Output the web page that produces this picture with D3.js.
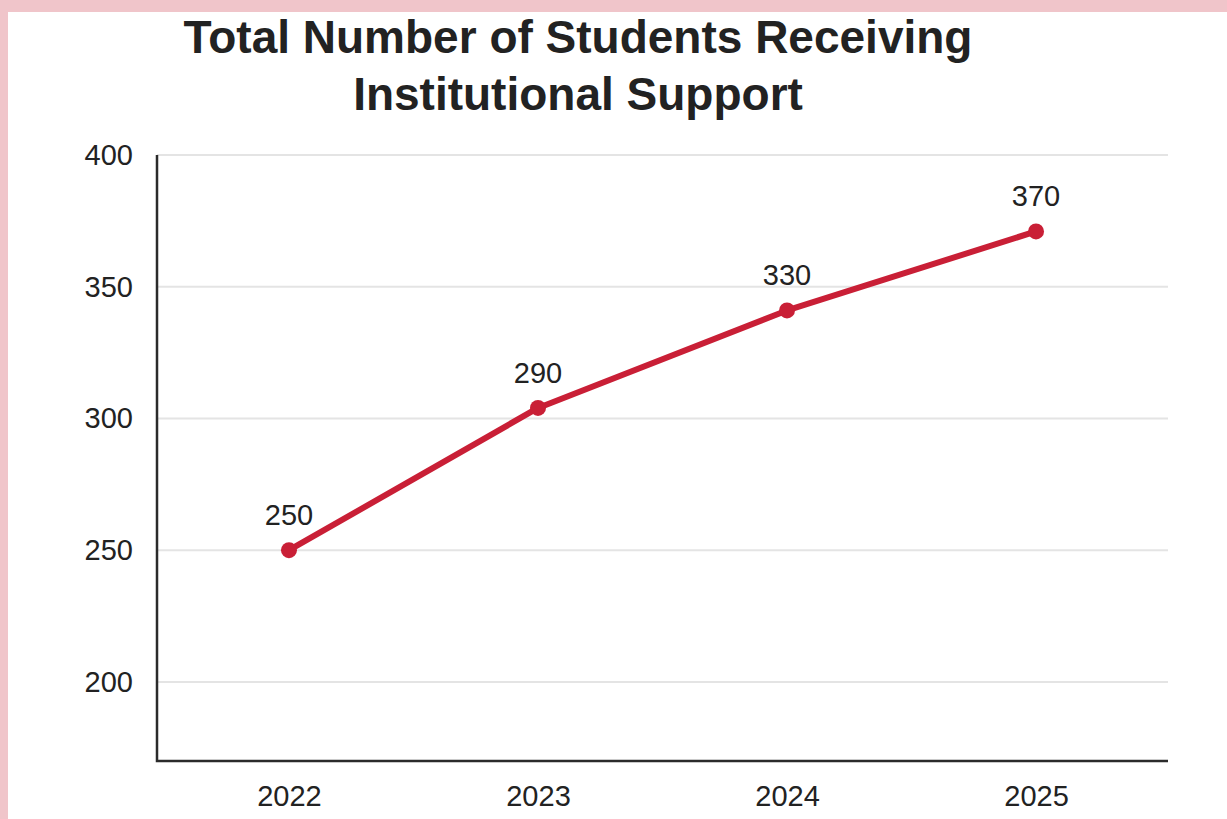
<!DOCTYPE html>
<html>
<head>
<meta charset="utf-8">
<script src="https://cdn.jsdelivr.net/npm/d3@7"></script>
<style>
  html, body { margin: 0; padding: 0; background: #f0c5ca; }
  svg { display: block; }
</style>
</head>
<body>
<svg id="chart" width="1227" height="819"></svg>
<script>
const titleLines = ["Total Number of Students Receiving", "Institutional Support"];
const years = ["2022", "2023", "2024", "2025"];
// plotted positions (as drawn in the picture)
const values = [250, 304, 341, 371];
// printed data labels
const labels = ["250", "290", "330", "370"];
const yTicks = [200, 250, 300, 350, 400];

const svg = d3.select("#chart");
const W = 1227, H = 819;

// white panel with pink top and left border
svg.append("rect").attr("x", 8).attr("y", 12).attr("width", W - 8).attr("height", H - 12).attr("fill", "#ffffff");

const x = d3.scalePoint().domain(years).range([157, 1168]).padding(0.53);
const y = d3.scaleLinear().domain([170, 400]).range([761, 155]);

// title
svg.append("g").selectAll("text").data(titleLines).join("text")
  .attr("x", 578).attr("y", (d, i) => 53 + i * 57)
  .attr("text-anchor", "middle")
  .attr("font-family", "Liberation Sans, Arial, sans-serif")
  .attr("font-weight", "bold").attr("font-size", 46)
  .attr("fill", "#222").text(d => d);

// gridlines
svg.append("g").selectAll("line").data(yTicks).join("line")
  .attr("x1", 157).attr("x2", 1168)
  .attr("y1", d => y(d)).attr("y2", d => y(d))
  .attr("stroke", "#e4e4e4").attr("stroke-width", 2);

// y axis
const yAxis = svg.append("g").attr("transform", "translate(157,0)")
  .call(d3.axisLeft(y).tickValues(yTicks).tickSize(0).tickPadding(24));
yAxis.select(".domain").remove();
yAxis.selectAll("text")
  .attr("font-family", "Liberation Sans, Arial, sans-serif")
  .attr("font-size", 29).attr("fill", "#222");

// x axis
const xAxis = svg.append("g").attr("transform", "translate(0,761)")
  .call(d3.axisBottom(x).tickSize(0).tickPadding(24));
xAxis.select(".domain").remove();
xAxis.selectAll("text")
  .attr("font-family", "Liberation Sans, Arial, sans-serif")
  .attr("font-size", 29).attr("fill", "#222");

// axis lines
svg.append("path")
  .attr("d", `M157,155V761H1168`)
  .attr("fill", "none").attr("stroke", "#2b2b2b").attr("stroke-width", 2.5);

// line
const pts = years.map((d, i) => ({ year: d, v: values[i], label: labels[i] }));
svg.append("path").datum(pts)
  .attr("d", d3.line().x(d => x(d.year)).y(d => y(d.v)))
  .attr("fill", "none").attr("stroke", "#c91f36").attr("stroke-width", 6)
  .attr("stroke-linejoin", "round");

svg.append("g").selectAll("circle").data(pts).join("circle")
  .attr("cx", d => x(d.year)).attr("cy", d => y(d.v)).attr("r", 8)
  .attr("fill", "#c91f36");

svg.append("g").selectAll("text").data(pts).join("text")
  .attr("x", d => x(d.year)).attr("y", d => y(d.v) - 25)
  .attr("text-anchor", "middle")
  .attr("font-family", "Liberation Sans, Arial, sans-serif")
  .attr("font-size", 29).attr("fill", "#222")
  .text(d => d.label);
</script>
</body>
</html>
